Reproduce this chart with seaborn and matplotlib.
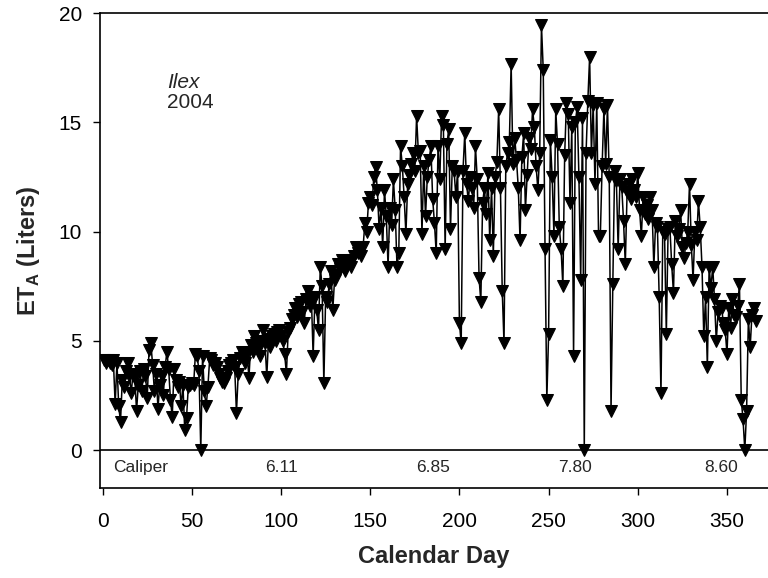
import numpy as np
import matplotlib
matplotlib.use("Agg")
import matplotlib.pyplot as plt
import seaborn as sns

et_winter = [4.1, 4.0, 4.1, 4.0, 3.9, 4.1, 2.1, 4.0, 2.0, 1.3,
             3.2, 2.9, 3.6, 4.0, 3.4, 2.6, 3.5, 3.3, 1.8, 3.0,
             3.6, 2.7, 3.7, 3.4, 2.4, 4.6, 4.9, 3.9, 2.7, 3.5,
             1.9, 3.0, 3.4, 2.5, 3.8, 4.5, 3.7, 2.3, 1.5, 3.7,
             3.2, 2.9, 3.1, 2.0, 3.0, 0.9, 1.45, 2.9, 3.0, 3.05,
             3.0, 4.4, 4.3, 3.6, 0.0, 4.3, 2.7, 2.0, 2.9, 4.2]
et_spring = [4.1, 3.9, 4.0, 3.8, 3.5, 3.3, 3.1, 3.05, 3.3, 3.6,
             3.9, 4.0, 4.1, 3.8, 1.7, 3.5, 4.2, 4.5, 4.3, 4.0,
             4.4, 3.3, 4.8, 4.5, 5.2, 4.9, 4.6, 4.3, 5.0, 5.5,
             4.9, 3.35, 5.1, 4.7, 5.2, 5.3, 5.0, 5.4, 5.5, 5.2,
             5.0, 4.4, 3.5, 5.4, 5.6, 6.0, 6.2, 6.5, 6.1, 6.7,
             6.8, 6.3, 5.8, 6.9, 7.3, 6.6, 7.0, 4.3, 7.0, 6.4,
             5.5, 8.4, 7.5, 3.05, 7.0, 6.8, 7.6, 8.2, 6.4, 7.8,
             8.0, 8.5, 8.3, 8.7, 8.4, 8.2, 8.5, 8.6, 8.4, 8.7,
             8.9, 9.3, 9.0, 9.2, 8.9, 9.3, 10.4, 10.0, 11.3, 11.6]
et_summer = [11.2, 12.5, 12.95, 11.9, 10.1, 11.1, 9.3, 11.9, 10.7, 8.4,
             11.1, 10.3, 12.4, 11.0, 8.4, 9.0, 13.9, 13.0, 11.6, 9.9,
             12.2, 12.6, 13.1, 13.6, 12.8, 15.3, 13.6, 13.7, 9.9, 13.0,
             10.7, 12.5, 13.3, 13.9, 11.5, 10.4, 9.0, 13.9, 12.4, 15.3,
             14.9, 9.2, 14.0, 14.7, 10.1, 13.0, 12.8, 11.6, 12.8, 5.8,
             4.9, 12.8, 14.5, 12.2, 11.4, 12.5, 12.0, 11.1, 13.9, 12.4,
             7.9, 6.8, 11.3, 12.0, 10.8, 12.7, 9.6, 12.0, 8.9, 12.5,
             13.2, 15.6, 12.0, 7.3, 4.9, 13.0, 13.6, 14.1, 17.7, 13.1,
             14.3, 13.3, 12.0, 9.6, 13.4, 14.5, 11.0, 12.6, 14.3, 13.8]
et_autumn = [15.6, 14.8, 13.0, 11.9, 13.6, 19.45, 17.4, 9.2, 2.3, 5.3,
             14.2, 12.5, 9.8, 15.6, 14.0, 10.2, 9.2, 7.5, 13.5, 15.9,
             15.4, 11.3, 14.8, 4.3, 15.0, 15.7, 12.5, 7.8, 15.2, 0.0,
             13.6, 16.0, 18.0, 13.6, 15.8, 12.2, 15.9, 9.8, 9.8, 13.0,
             15.6, 13.1, 15.8, 12.5, 1.8, 7.6, 12.8, 12.3, 9.2, 12.4,
             12.05, 10.5, 8.5, 11.8, 12.2, 11.5, 12.4, 11.9, 11.6, 12.7,
             11.0, 9.8, 11.6, 10.8, 11.2, 10.6, 11.6, 11.0, 8.4, 10.4,
             10.2, 7.0, 2.6, 10.0, 9.9, 5.3, 10.1, 10.2, 8.5, 7.2,
             10.5, 9.8, 10.1, 11.0, 9.3, 8.8, 9.5, 10.0, 12.2, 9.4]
et_late = [7.8, 10.0, 9.6, 11.4, 10.2, 8.4, 5.2, 7.0, 3.8, 8.4,
           7.4, 8.4, 6.9, 5.0, 6.3, 6.6, 6.5, 5.8, 5.5, 4.4,
           6.5, 5.6, 6.9, 6.2, 6.1, 6.6, 7.6, 2.3, 1.4, 0.0,
           1.8, 6.0, 4.7, 6.2, 6.5, 5.9]

et = et_winter + et_spring + et_summer + et_autumn + et_late
day = list(range(1, len(et) + 1))

# caliper readings shown inside the plot
caliper_days = [100, 185, 265, 347]
caliper_vals = ["6.11", "6.85", "7.80", "8.60"]

sns.set_theme(style="ticks")
plt.rcParams["font.family"] = ["Liberation Sans", "DejaVu Sans"]
plt.rcParams["mathtext.fontset"] = "custom"
plt.rcParams["mathtext.rm"] = "Liberation Sans"
plt.rcParams["mathtext.bf"] = "Liberation Sans:bold"

fig = plt.figure(figsize=(7.68, 5.78), dpi=100)
ax = fig.add_axes([0.1302, 0.1557, 0.8698, 0.8213])

sns.lineplot(x=day, y=et, ax=ax, color="black", linewidth=1.1,
             marker="v", markersize=8.5, markeredgecolor="black",
             estimator=None, zorder=3)

ax.axhline(0, color="black", linewidth=1.2, zorder=2)

ax.set_xlim(-1.5, 373)
ax.set_ylim(-1.74, 20)
ax.set_xticks(np.arange(0, 351, 50))
ax.set_yticks(np.arange(0, 21, 5))
ax.tick_params(axis="both", direction="out", length=5, width=1,
               labelsize=15, colors="black")
ax.tick_params(axis="x", pad=12)
ax.tick_params(axis="y", pad=8)
for side in ["left", "bottom", "top"]:
    ax.spines[side].set_color("black")
    ax.spines[side].set_linewidth(1.2)
ax.spines["right"].set_visible(False)

ax.set_xlabel("Calendar Day", fontsize=17, fontweight="bold", labelpad=10)
ax.set_ylabel(r"ET$_\mathbf{A}$ (Liters)", fontsize=17, fontweight="bold",
              labelpad=12)

ax.text(36, 16.85, "Ilex", fontsize=15, style="italic", va="center")
ax.text(36, 15.9, "2004", fontsize=15, va="center")

ax.text(21, -0.78, "Caliper", fontsize=12.5, ha="center", va="center")
for d, v in zip(caliper_days, caliper_vals):
    ax.text(d, -0.78, v, fontsize=12.5, ha="center", va="center")

fig.savefig("out.png", dpi=100)
